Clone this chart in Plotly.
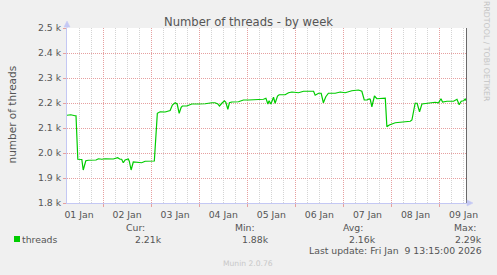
import pandas as pd
import plotly.graph_objects as go

# ---- data ----
base_day = "2026-01-01"
hours = [6.0, 7.9, 10.0, 10.5, 11.4, 13.4, 14.1, 15.4, 16.7, 20.5, 21.7, 23.4, 25.0,
         29.1, 31.3, 32.5, 33.3, 34.1, 35.0, 36.6, 37.1, 38.0, 39.1, 41.6, 43.3, 45.0,
         49.1, 49.6, 51.1, 52.5, 55.0, 56.6, 57.5, 58.6, 60.0, 61.0, 62.0, 63.0, 63.6,
         65.8, 68.3, 71.6, 75.0, 78.3, 79.9, 81.3, 82.1, 83.3, 84.6, 85.3, 86.3, 87.1,
         88.3, 91.6, 94.1, 96.6, 99.9, 104.1, 105.3, 106.3, 106.9, 107.8, 109.1, 109.9,
         111.1, 111.9, 114.9, 116.6, 118.3, 121.6, 124.1, 129.1, 129.9, 131.6, 132.9,
         134.0, 135.2, 136.5, 139.9, 142.4, 144.9, 148.2, 151.5, 153.2, 154.4, 155.7,
         156.9, 157.4, 158.2, 159.5, 160.7, 162.4, 164.9, 165.7, 166.9, 169.9, 174.9,
         177.4, 178.2, 179.8, 180.8, 182.0, 183.2, 184.8, 188.2, 189.8, 191.5, 192.7,
         193.5, 195.7, 199.0, 200.7, 201.8, 202.8, 204.0, 204.8, 205.3]
threads = [2151, 2153, 2149, 2149, 1975, 1974, 1932, 1969, 1971, 1972, 1977, 1975, 1977,
           1976, 1981, 1975, 1975, 1961, 1972, 1976, 1967, 1932, 1964, 1964, 1961, 1967,
           1968, 1968, 2159, 2165, 2164, 2168, 2170, 2192, 2201, 2196, 2159, 2183, 2188,
           2188, 2196, 2196, 2197, 2201, 2201, 2196, 2188, 2199, 2209, 2203, 2175, 2201,
           2204, 2205, 2212, 2212, 2212, 2215, 2219, 2196, 2209, 2196, 2223, 2199,
           2228, 2233, 2233, 2241, 2244, 2241, 2247, 2247, 2231, 2239, 2239,
           2201, 2225, 2239, 2239, 2244, 2241, 2249, 2252, 2247, 2212, 2212,
           2216, 2215, 2185, 2228, 2217, 2219, 2219, 2105, 2112, 2121, 2124,
           2127, 2132, 2199, 2199, 2165, 2196, 2197, 2199, 2203, 2201, 2217,
           2204, 2207, 2207, 2215, 2193, 2207, 2209, 2216, 2209]
range_hours = [6.0, 205.7]
y_ticks = [1800, 1900, 2000, 2100, 2200, 2300, 2400, 2500]
y_tick_labels = ["1.8 k", "1.9 k", "2.0 k", "2.1 k", "2.2 k", "2.3 k", "2.4 k", "2.5 k"]
series_name = "threads"
stat_names = ["Cur:", "Min:", "Avg:", "Max:"]
stat_values = ["2.21k", "1.88k", "2.16k", "2.29k"]
last_update = "Last update: Fri Jan\u00a0 9 13:15:00 2026"
title = "Number of threads - by week"
y_title = "number of threads"
watermark = "RRDTOOL / TOBI OETIKER"
footer = "Munin 2.0.76"

# ---- styling ----
W, H = 497, 275
ML, MR, MT, MB = 67, 30, 28, 72
PW, PH = W - ML - MR, H - MT - MB
FONT = "DejaVu Sans"
TXT = "#555555"
GREEN = "#00cc00"
MAJOR = "#e6a0a0"
MINOR = "#d4d4d4"
AXIS = "#c4c8f4"


def px(X):
    return (X - ML) / PW


def py(Y):
    return (MT + PH - Y) / PH


t0 = pd.Timestamp(base_day)
times = t0 + pd.to_timedelta(hours, unit="h")
xr = [t0 + pd.Timedelta(hours=h) for h in range_hours]

fig = go.Figure()
fig.add_trace(go.Scatter(x=times, y=threads, mode="lines", name=series_name,
                         line=dict(color=GREEN, width=1.2), showlegend=False,
                         hoverinfo="skip"))

fig.update_layout(
    width=W, height=H,
    margin=dict(l=ML, r=MR, t=MT, b=MB, pad=0),
    paper_bgcolor="#f0f0f0", plot_bgcolor="#ffffff",
    font=dict(family=FONT, size=9.3, color=TXT),
    title=dict(text=title, x=0.5, xref="container", xanchor="center",
               y=1 - 21.5 / H, yref="container", yanchor="middle",
               font=dict(family=FONT, size=11.6, color=TXT)),
    xaxis=dict(type="date", range=xr, tick0=base_day, dtick=86400000,
               ticklabelmode="period", tickformat="%d %b",
               showgrid=True, gridcolor=MAJOR, griddash="1px,1px", gridwidth=1,
               ticks="outside", ticklen=3, tickcolor=MAJOR,
               showline=True, linecolor=AXIS, linewidth=1,
               minor=dict(dtick=6 * 3600000, tick0=base_day, showgrid=True,
                          gridcolor=MINOR, griddash="1px,1px", gridwidth=1),
               zeroline=False, fixedrange=True,
               tickfont=dict(family=FONT, size=9.3, color=TXT)),
    yaxis=dict(range=[1800, 2500], tickvals=y_ticks, ticktext=y_tick_labels,
               showgrid=True, gridcolor=MAJOR, griddash="1px,1px", gridwidth=1,
               ticks="outside", ticklen=3, tickcolor=MAJOR,
               showline=True, linecolor=AXIS, linewidth=1,
               zeroline=False, fixedrange=True,
               tickfont=dict(family=FONT, size=9.3, color=TXT)),
)

shapes = [
    # right border line
    dict(type="line", xref="paper", yref="paper", x0=px(466.5), x1=px(466.5),
         y0=0, y1=1, line=dict(color="#6a6a6a", width=1), layer="above"),
    # y axis arrow (top)
    dict(type="path", xref="paper", yref="paper",
         path=f"M {px(64)} {py(27)} L {px(67)} {py(21)} L {px(70)} {py(27)} Z",
         fillcolor=AXIS, line=dict(color=AXIS, width=0.5), layer="above"),
    dict(type="line", xref="paper", yref="paper", x0=0, x1=0, y0=1, y1=py(25),
         line=dict(color=AXIS, width=1), layer="above"),
    # x axis arrow (right)
    dict(type="path", xref="paper", yref="paper",
         path=f"M {px(467)} {py(200)} L {px(473)} {py(203)} L {px(467)} {py(206)} Z",
         fillcolor=AXIS, line=dict(color=AXIS, width=0.5), layer="above"),
    # legend swatch
    dict(type="rect", xref="paper", yref="paper", x0=px(14), x1=px(20),
         y0=py(242), y1=py(236), fillcolor=GREEN, line=dict(width=0)),
]
fig.update_layout(shapes=shapes)

ann = []
ann.append(dict(text=y_title, xref="paper", yref="paper", x=px(11.5), y=py(114),
                textangle=-90, showarrow=False, xanchor="center", yanchor="middle",
                font=dict(family=FONT, size=10.5, color=TXT)))
ann.append(dict(text=watermark, xref="paper", yref="paper", x=px(487), y=py(51),
                textangle=90, showarrow=False, xanchor="center", yanchor="middle",
                font=dict(family=FONT, size=7.8, color="#c4c4c4")))
ann.append(dict(text=footer, xref="paper", yref="paper", x=px(248), y=py(263),
                showarrow=False, xanchor="center", yanchor="middle",
                font=dict(family=FONT, size=7.6, color="#c8c8c8")))
ann.append(dict(text=series_name, xref="paper", yref="paper", x=px(20.5), y=py(239),
                showarrow=False, xanchor="left", yanchor="middle", borderpad=0,
                font=dict(family=FONT, size=9.3, color=TXT)))
name_right = [146, 255.7, 364.3, 476.7]
val_right = [163.3, 270, 376.7, 482.7]
for nm, v, xn, xv in zip(stat_names, stat_values, name_right, val_right):
    ann.append(dict(text=nm, xref="paper", yref="paper", x=px(xn), y=py(227),
                    showarrow=False, xanchor="right", yanchor="middle", borderpad=0,
                    font=dict(family=FONT, size=9.3, color=TXT)))
    ann.append(dict(text=v, xref="paper", yref="paper", x=px(xv), y=py(239),
                    showarrow=False, xanchor="right", yanchor="middle", borderpad=0,
                    font=dict(family=FONT, size=9.3, color=TXT)))
ann.append(dict(text=last_update, xref="paper", yref="paper", x=px(482.7), y=py(250.7),
                showarrow=False, xanchor="right", yanchor="middle", borderpad=0,
                font=dict(family=FONT, size=9.3, color=TXT)))
fig.update_layout(annotations=ann)

fig.write_html("out.html", config={"displayModeBar": False})
